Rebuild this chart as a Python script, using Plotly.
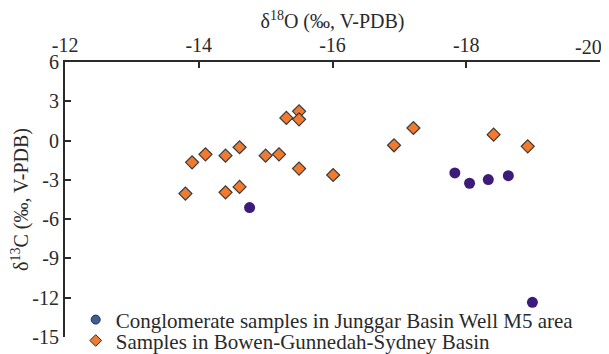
import plotly.graph_objects as go

# delta18O (x) and delta13C (y) values
orange_x = [-13.80, -13.90, -14.10, -14.40, -14.40, -14.61, -14.61, -15.00, -15.20,
            -15.31, -15.50, -15.50, -15.50, -16.01, -16.92, -17.21, -18.41, -18.92]
orange_y = [-4.05, -1.66, -1.05, -1.15, -3.95, -0.51, -3.54, -1.15, -1.05,
            1.73, 2.23, 1.62, -2.14, -2.63, -0.36, 0.96, 0.45, -0.44]

purple_x = [-14.76, -17.83, -18.05, -18.33, -18.63, -18.99]
purple_y = [-5.12, -2.47, -3.26, -2.98, -2.68, -12.35]

x_ticks = [-12, -14, -16, -18, -20]
x_ticklabels = ["-12", "-14", "-16", "-18", "-20"]
y_ticks = [6, 3, 0, -3, -6, -9, -12, -15]
y_ticklabels = ["6", "3", "0", "-3", "-6", "-9", "-12", "-15"]

series_names = ["Conglomerate samples in Junggar Basin Well M5 area",
                "Samples in Bowen-Gunnedah-Sydney Basin"]

FONT = "Liberation Serif"
TXT = "#2a2a2a"
ORANGE = "#EF7A30"
PURPLE = "#3C1B7A"
LEG_BLUE = "#3F5C9C"

fig = go.Figure()

# data traces
fig.add_trace(go.Scatter(
    x=orange_x, y=orange_y, mode="markers", showlegend=False,
    marker=dict(symbol="diamond", size=10, color=ORANGE,
                line=dict(color="#3a3a3a", width=1.2))))
fig.add_trace(go.Scatter(
    x=purple_x, y=purple_y, mode="markers", showlegend=False,
    marker=dict(symbol="circle", size=11, color=PURPLE, line=dict(width=0))))

# legend entries (each in its own legend box for precise placement)
fig.add_trace(go.Scatter(
    x=[None], y=[None], mode="markers", name=series_names[0], legend="legend",
    marker=dict(symbol="circle", size=9, color=LEG_BLUE,
                line=dict(color="#2a2a2a", width=1))))
fig.add_trace(go.Scatter(
    x=[None], y=[None], mode="markers", name=series_names[1], legend="legend2",
    marker=dict(symbol="diamond", size=9, color=ORANGE,
                line=dict(color="#2a2a2a", width=1))))

leg_common = dict(xanchor="left", yanchor="middle", bgcolor="rgba(0,0,0,0)",
                  font=dict(size=21, family=FONT, color=TXT), itemwidth=30,
                  borderwidth=0)

# last x tick label is drawn as an annotation so it can sit inside the page edge
shown_ticktext = x_ticklabels[:-1] + [""]

fig.update_layout(
    width=601, height=346,
    margin=dict(l=57, r=9, t=54, b=17, autoexpand=False),
    paper_bgcolor="white", plot_bgcolor="white",
    font=dict(family=FONT, size=20, color=TXT),
    showlegend=True,
    legend=dict(x=0.020, y=0.062, **leg_common),
    legend2=dict(x=0.020, y=-0.014, **leg_common),
    xaxis=dict(
        side="top", range=[-11.999, -20.001], tickvals=x_ticks, ticktext=shown_ticktext,
        showgrid=False, zeroline=False, showline=True, linecolor=TXT, linewidth=2,
        ticks="inside", ticklen=6, tickwidth=2, tickcolor=TXT,
        tickfont=dict(size=20, family=FONT, color=TXT),
        ticklabeloverflow="allow", automargin=False,
        title=dict(text="δ<sup>18</sup>O (‰, V-PDB)", standoff=0,
                   font=dict(size=20, family=FONT, color=TXT)),
        mirror=False),
    yaxis=dict(
        range=[-15, 6], tickvals=y_ticks, ticktext=y_ticklabels,
        showgrid=False, zeroline=False, showline=True, linecolor=TXT, linewidth=2,
        ticks="inside", ticklen=6, tickwidth=2, tickcolor=TXT,
        tickfont=dict(size=20, family=FONT, color=TXT),
        ticklabeloverflow="allow", automargin=False,
        title=dict(text="δ<sup>13</sup>C (‰, V-PDB)", standoff=4,
                   font=dict(size=20, family=FONT, color=TXT)),
        mirror=False),
    annotations=[dict(
        x=x_ticks[-1], xref="x", y=1, yref="paper", text=x_ticklabels[-1],
        showarrow=False, xanchor="right", yanchor="bottom", xshift=4, yshift=2,
        font=dict(size=20, family=FONT, color=TXT))],
)

fig.write_html("out.html")
